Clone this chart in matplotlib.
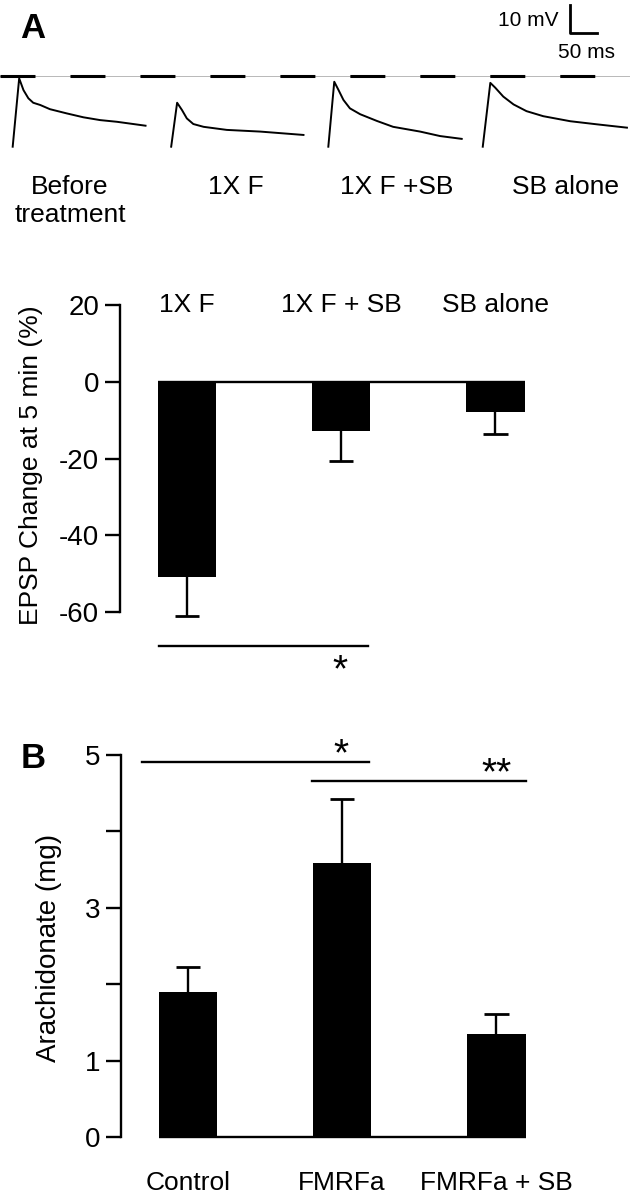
import numpy as np
import matplotlib
matplotlib.use('Agg')
import matplotlib.pyplot as plt

plt.rcParams['font.family'] = ['Liberation Sans', 'DejaVu Sans']

# EPSP traces (ms from onset, mV above baseline)
trace_t = [
    [0, 12, 20, 29, 38, 51, 69, 100, 131, 162, 193, 246],
    [0, 11, 20, 29, 41, 60, 103, 165, 245],
    [0, 11, 19, 28, 40, 59, 90, 120, 170, 207, 247],
    [0, 14, 23, 38, 57, 81, 112, 162, 211, 267],
]
trace_v = [
    [0, 24.4, 20.2, 17.3, 15.7, 14.9, 13.4, 11.9, 10.5, 9.5, 8.9, 7.5],
    [0, 15.7, 13.1, 10.1, 8.1, 7.1, 6.0, 5.4, 4.2],
    [0, 23.2, 20.2, 16.7, 13.7, 11.6, 9.2, 7.1, 5.4, 3.8, 2.8],
    [0, 22.8, 21.1, 17.9, 15.1, 12.7, 10.9, 9.1, 8.0, 6.8],
]
trace_onset = [23.5, 317, 608, 894]
trace_peak_ref = 25.4
trace_labels = ['Before\ntreatment', '1X F', '1X F +SB', 'SB alone']

# panel A bars
a_labels = ['1X F', '1X F + SB', 'SB alone']
a_mean = [-50.8, -12.8, -7.8]
a_err = [10.2, 7.9, 5.7]

# panel B bars
b_labels = ['Control', 'FMRFa', 'FMRFa + SB']
b_mean = [1.90, 3.59, 1.35]
b_err = [0.33, 0.84, 0.26]

W, H = 630, 1200
FS = 19
LW = 1.7


def px_box(left, top, right, bottom):
    return [left / W, 1 - bottom / H, (right - left) / W, (bottom - top) / H]


def fx(x):
    return x / W


def fy(y):
    return 1 - y / H


def err_bars(ax, xs, tops, errs, cap=0.08):
    # single sided error bars: one stem, one cap
    for xi, m, e in zip(xs, tops, errs):
        end = m + e if m >= 0 else m - e
        ax.plot([xi, xi], [m, end], color='black', lw=LW, solid_capstyle='butt')
        ax.plot([xi - cap, xi + cap], [end, end], color='black', lw=LW + 0.3,
                solid_capstyle='butt')


fig = plt.figure(figsize=(6.3, 12), dpi=100)

# ---- traces ----
ax0 = fig.add_axes(px_box(0, 0, 630, 160))
ax0.set_xlim(0, 630 * 50 / 27)
ax0.set_ylim(-4.75, 52.4)
ax0.axis('off')
ax0.axhline(trace_peak_ref, color='#b8b8b8', lw=0.7)
ax0.plot([0, 630 * 50 / 27], [trace_peak_ref] * 2, color='black', lw=2.2,
         dashes=(11.45, 11.45))
for t, v, t0 in zip(trace_t, trace_v, trace_onset):
    ax0.plot(np.array(t) + t0, v, color='black', lw=1.4)
# scale bar
ax0.plot([1056, 1056, 1106], [50.6, 40.6, 40.6], color='black', lw=2.0)
fig.text(fx(558), fy(21), '10 mV', ha='right', va='center', fontsize=15)
fig.text(fx(586), fy(52), '50 ms', ha='center', va='center', fontsize=15)
fig.text(fx(33), fy(28), 'A', ha='center', va='center', fontsize=25, fontweight='bold')

label_x = [70, 236, 397, 565]
for lab, x in zip(trace_labels, label_x):
    fig.text(fx(x), fy(175), lab, ha='center', va='top', fontsize=FS, linespacing=1.2)

# ---- panel A ----
x = np.arange(3)
bw = 0.38
ax1 = fig.add_axes(px_box(120, 290, 560, 680))
ax1.bar(x, a_mean, width=bw, color='black')
err_bars(ax1, x, a_mean, a_err)
ax1.hlines(0, x[0] - bw / 2, x[-1] + bw / 2, color='black', lw=LW)
ax1.set_xlim(-0.435, 2.42)
ax1.set_ylim(-77.7, 23.9)
ax1.set_yticks([20, 0, -20, -40, -60])
ax1.set_yticklabels(['20', '0', '-20', '-40', '-60'])
ax1.set_xticks([])
for s in ['top', 'right', 'bottom']:
    ax1.spines[s].set_visible(False)
ax1.spines['left'].set_bounds(-60, 20)
ax1.spines['left'].set_linewidth(LW)
ax1.tick_params(axis='y', length=11, width=LW, labelsize=FS + 1, pad=4)
ax1.set_ylabel('EPSP Change at 5 min (%)', fontsize=FS)
ax1.yaxis.set_label_coords(-0.176, 0.551)
for xi, lab in zip(x, a_labels):
    ax1.text(xi, 20, lab, ha='center', va='center', fontsize=FS)
ax1.plot([-0.18, 1.175], [-68.9, -68.9], color='black', lw=LW, clip_on=False)
ax1.text(0.99, -75.5, '*', ha='center', va='center', fontsize=28)

# ---- panel B ----
ax2 = fig.add_axes(px_box(121, 700, 561, 1150))
ax2.bar(x, b_mean, width=bw, color='black')
err_bars(ax2, x, b_mean, b_err)
ax2.hlines(0, x[0] - bw / 2, x[-1] + bw / 2, color='black', lw=LW)
ax2.set_xlim(-0.435, 2.42)
ax2.set_ylim(-0.17, 5.72)
ax2.set_yticks([0, 1, 2, 3, 4, 5])
ax2.set_yticklabels(['0', '1', '', '3', '', '5'])
ax2.set_xticks([])
for s in ['top', 'right', 'bottom']:
    ax2.spines[s].set_visible(False)
ax2.spines['left'].set_bounds(0, 5)
ax2.spines['left'].set_linewidth(LW)
ax2.tick_params(axis='y', length=11, width=LW, labelsize=FS + 1, pad=4)
ax2.set_ylabel('Arachidonate (mg)', fontsize=FS + 1)
ax2.yaxis.set_label_coords(-0.134, 0.449)
for xi, lab in zip(x, b_labels):
    ax2.text(xi, -0.6, lab, ha='center', va='center', fontsize=FS)
ax2.plot([-0.30, 1.175], [4.91, 4.91], color='black', lw=LW, clip_on=False)
ax2.plot([0.805, 2.195], [4.66, 4.66], color='black', lw=LW, clip_on=False)
ax2.text(0.99, 5.0, '*', ha='center', va='center', fontsize=28)
ax2.text(2.0, 4.75, '**', ha='center', va='center', fontsize=28)
fig.text(fx(33), fy(758), 'B', ha='center', va='center', fontsize=25, fontweight='bold')

fig.savefig('out.png', dpi=100)
